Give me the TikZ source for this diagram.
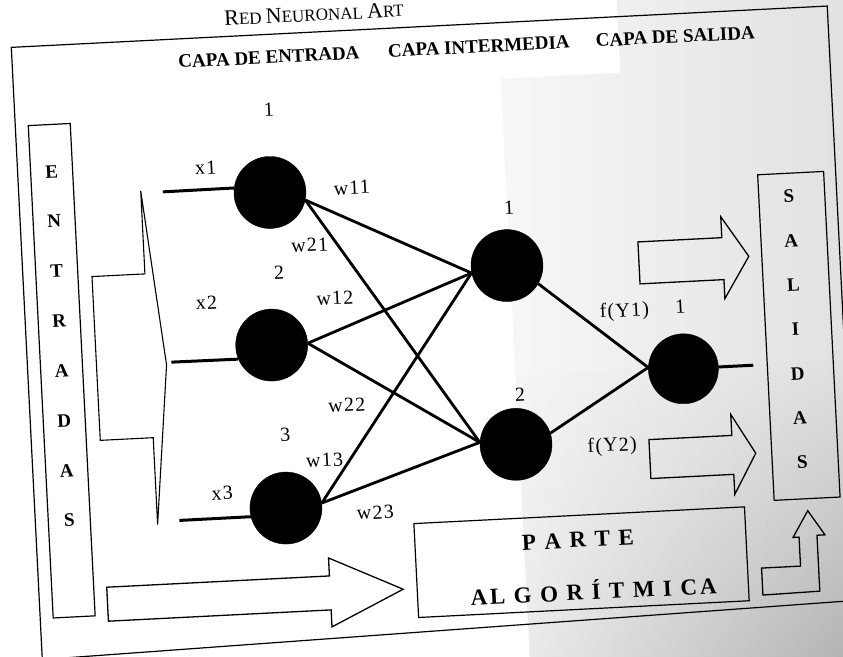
\documentclass[tikz,border=0pt]{standalone}
\usepackage{fontspec}
\setmainfont{Liberation Serif}
\newfontfamily\lblfont[LetterSpace=6]{Liberation Serif}
\newfontfamily\algfont[LetterSpace=12]{Liberation Serif}
\usetikzlibrary{fadings}

% fake small capitals for the running head
\newcommand\capword[2]{{\fontsize{22bp}{24bp}\selectfont #1}{\fontsize{17bp}{20bp}\selectfont #2}}

\tikzset{
  neuron/.style={circle, fill=black, draw=black, minimum size=72bp, inner sep=0pt},
  conn/.style={line width=2.8bp},
  inputline/.style={line width=3bp},
  frameline/.style={line width=1.2bp, line join=miter},
  blockarrow/.style={draw, line width=1.3bp, line join=miter},
  header/.style={font=\fontsize{19bp}{22bp}\selectfont\bfseries, anchor=base west, inner sep=0pt},
  vletter/.style={font=\fontsize{19bp}{22bp}\selectfont\bfseries, inner sep=0pt},
  lbl/.style={font=\lblfont\fontsize{20bp}{24bp}\selectfont, inner sep=0pt},
  algtext/.style={font=\algfont\bfseries\fontsize{23bp}{26bp}\selectfont, inner sep=0pt, anchor=base},
}

\begin{document}
\begin{tikzpicture}[x=1bp,y=-1bp]
\useasboundingbox (0,0) rectangle (843,657);
\clip (0,0) rectangle (843,657);
\begin{scope}[rotate around={2.9:(421,328)}, transform shape]
  % shaded paper on the right part of the sheet
  \shade[left color=black!3, right color=black!14]
    (513,83) -- (633,83) -- (633,-60) -- (920,-60) -- (920,720) -- (513,720) -- cycle;
  \shade[left color=black!8, right color=black!40, path fading=north]
    (513,380) rectangle (920,720);

  % running head
  \node[anchor=base west, inner sep=0pt] (title) at (240,16)
    {\fontsize{17bp}{20bp}\selectfont\capword{R}{ED} \capword{N}{EURONAL} \capword{A}{RT}};

  % outer frame
  \draw[frameline] (26,27) -- (843,27) -- (843,622) -- (26,640) -- cycle;

  % layer headings
  \node[header] (hin)  at (192,56) {CAPA DE ENTRADA};
  \node[header] (hmid) at (402,56) {CAPA INTERMEDIA};
  \node[header] (hout) at (610,56) {CAPA DE SALIDA};

  % input column
  \node[draw, frameline, minimum width=42bp, minimum height=493bp, inner sep=0pt] (entbox) at (60,352.5) {};
  \foreach \l [count=\i from 0] in {E,N,T,R,A,D,A,S}
    \node[vletter] (ent\i) at (60,153+49.9*\i) {\l};

  % output column
  \node[draw, frameline, minimum width=66bp, minimum height=326bp, inner sep=0pt] (salbox) at (798,355) {};
  \foreach \l [count=\i from 0] in {S,A,L,I,D,A,S}
    \node[vletter] (sal\i) at (795,215.3+44.3*\i) {\l};

  % wide arrow gathering the inputs
  \draw[blockarrow, line width=1.1bp] (95,260) -- (148,260) -- (148,177) -- (165,352)
    -- (148,511) -- (148,424) -- (95,424) -- cycle;

  % neurons
  \node[neuron] (n1) at (277,185) {};
  \node[neuron] (n2) at (271,337.5) {};
  \node[neuron] (n3) at (277,501) {};
  \node[neuron] (h1) at (510,270) {};
  \node[neuron] (h2) at (510,449) {};
  \node[neuron, minimum size=70bp] (o1) at (681,382) {};

  % input lines
  \coordinate (in1) at (170,179);
  \coordinate (in2) at (170,349.5);
  \coordinate (in3) at (170,508);
  \coordinate (out1) at (751,382);
  \draw[inputline] (in1) -- (n1.170);
  \draw[inputline] (in2) -- (n2.200);
  \draw[inputline] (in3) -- (n3.191);

  % weighted connections
  \draw[conn] (n1.-15) -- (h1.189);
  \draw[conn] (n1.-15) -- (h2.174);
  \draw[conn] (n2.east) -- (h1.189);
  \draw[conn] (n2.east) -- (h2.174);
  \draw[conn] (n3.5) -- (h1.189);
  \draw[conn] (n3.5) -- (h2.174);
  \draw[conn] (h1.-33) -- (o1.175);
  \draw[conn] (h2.15) -- (o1.175);
  \draw[inputline] (o1.east) -- (out1);

  % neuron numbers
  \node[lbl] (num1) at (280,102) {1};
  \node[lbl] (num2) at (282,266) {2};
  \node[lbl] (num3) at (280,428) {3};
  \node[lbl] (numh1) at (515,212) {1};
  \node[lbl] (numh2) at (516.6,400) {2};
  \node[lbl] (numo1) at (681,320) {1};

  % input names
  \node[lbl] (lx1) at (214,157) {x1};
  \node[lbl] (lx2) at (208,292) {x2};
  \node[lbl] (lx3) at (214,483) {x3};

  % weights
  \node[lbl] (lw11) at (359,184.5) {w11};
  \node[lbl] (lw21) at (314,239.4) {w21};
  \node[lbl] (lw12) at (336.5,293.6) {w12};
  \node[lbl] (lw22) at (343,401.3) {w22};
  \node[lbl] (lw13) at (318,455) {w13};
  \node[lbl] (lw23) at (366,510) {w23};
  \node[lbl] (lf1) at (625,322) {f(Y1)};
  \node[lbl] (lf2) at (606,456) {f(Y2)};

  % block arrows
  \draw[blockarrow] (642,253) -- (726,253) -- (726,232) -- (752,273) -- (726,314)
    -- (726,295) -- (642,295) -- cycle;
  \draw[blockarrow] (643,451) -- (726,451) -- (726,430) -- (749,470) -- (726,510)
    -- (726,490) -- (643,490) -- cycle;
  \draw[blockarrow] (94,571) -- (317,571) -- (317,553) -- (390,588) -- (317,622)
    -- (317,605) -- (94,605) -- cycle;
  \draw[blockarrow] (749,612) -- (749,585) -- (788,585) -- (788,556) -- (782,556)
    -- (798,530) -- (814,555) -- (806,555) -- (806,611) -- cycle;

  % algorithmic part
  \node[draw, frameline, minimum width=331bp, minimum height=94bp, inner sep=0pt] (algbox) at (569.5,570) {};
  \node[algtext] (parte) at (567,555) {P A R T E};
  \node[algtext] (algo) at (580,608) {AL G O R Í T M I CA};
\end{scope}
\end{tikzpicture}
\end{document}
